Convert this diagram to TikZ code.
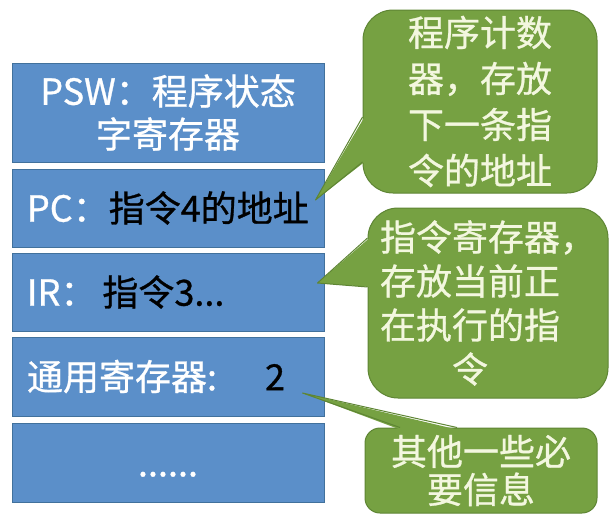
\documentclass[tikz,border=0pt]{standalone}
\usepackage{fontspec}
\setmainfont{Noto Sans CJK SC}[FakeBold=0.8]
\usetikzlibrary{calc}
\definecolor{regblue}{HTML}{5B8FC9}
\definecolor{regline}{HTML}{41719C}
\definecolor{notegreen}{HTML}{76A142}
\definecolor{noteline}{HTML}{5E8534}
\definecolor{notetext}{HTML}{F3F7DF}

\begin{document}
\begin{tikzpicture}[x=1pt, y=-1pt,
    regbox/.style={draw=regline, line width=1pt, fill=regblue, text=white, minimum width=312pt, inner sep=0pt, font=\fontsize{36}{43}\selectfont},
    regleft/.style={regbox, text width=282pt, align=left},
    note/.style={draw=noteline, line width=1pt, fill=notegreen, text=notetext, inner sep=0pt, align=center},
    wedge/.style={fill=notegreen},
    wedgeline/.style={draw=noteline, line width=1pt, line join=round}
  ]
    \useasboundingbox (0,0) rectangle (612,525);

    \node[regbox, minimum height=99pt, align=center] (psw) at (168,112.5) {PSW：程序状态\\字寄存器};
    \node[regleft, minimum height=78pt] (pc) at (168,208) {PC：\textcolor{black}{指令4的地址}};
    \node[regleft, minimum height=78pt] (ir) at (168,292) {IR：\,\textcolor{black}{指令3...}};
    \node[regleft, minimum height=79pt] (gpr) at (168,376.5) {通用寄存器:\hspace{48pt}\textcolor{black}{2}};
    \node[regbox, minimum height=79pt] (more) at (168,462.5) {\vphantom{字}......};

    \node[note, minimum width=234pt, minimum height=183pt, rounded corners=30pt, font=\fontsize{36}{46}\selectfont] (pcnote) at (480,101.5) {程序计数\\器，存放\\下一条指\\令的地址};
    \node[note, minimum width=240pt, minimum height=190pt, rounded corners=30pt, font=\fontsize{36}{44}\selectfont] (irnote) at (488,303) {指令寄存器，\\存放当前正\hphantom{，}\\在执行的指\hphantom{，}\\令\hphantom{，}};
    \node[note, minimum width=232pt, minimum height=85pt, rounded corners=15pt, font=\fontsize{36}{38}\selectfont] (gprnote) at (481,470.5) {其他一些必\\要信息};

    \coordinate (pctip) at ($(pc.east)+(-9,-8)$);
    \coordinate (irtip) at ($(ir.east)+(-7,-9)$);
    \coordinate (gprtip) at ($(gpr.east)+(-22,16.5)$);

    \fill[wedge] ($(pcnote.west)+(2,15.5)$) -- (pctip) -- ($(pcnote.west)+(2,60.5)$) -- cycle;
    \draw[wedgeline] ($(pcnote.west)+(0,15.5)$) -- (pctip) -- ($(pcnote.west)+(0,60.5)$);
    \fill[wedge] ($(irnote.west)+(2,-65)$) -- (irtip) -- ($(irnote.west)+(2,-16)$) -- cycle;
    \draw[wedgeline] ($(irnote.west)+(0,-65)$) -- (irtip) -- ($(irnote.west)+(0,-16)$);
    \fill[wedge] ($(gprnote.north)+(-81,2)$) -- (gprtip) -- ($(gprnote.north)+(-24,2)$) -- cycle;
    \draw[wedgeline] ($(gprnote.north)+(-81,0)$) -- (gprtip) -- ($(gprnote.north)+(-24,0)$);
  \end{tikzpicture}
\end{document}
